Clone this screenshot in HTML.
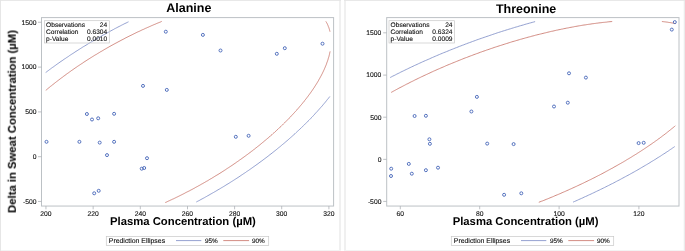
<!DOCTYPE html>
<html><head><meta charset="utf-8"><title>chart</title>
<style>
html,body{margin:0;padding:0;background:#fff;}
body{width:685px;height:251px;overflow:hidden;font-family:"Liberation Sans",sans-serif;}
svg{display:block}
text{filter:blur(0.2px);text-rendering:geometricPrecision}
text{font-family:"Liberation Sans",sans-serif;}
.tk{font-size:6.75px;fill:#111;stroke:#111;stroke-width:0.12px}
.in{font-size:6.6px;fill:#111;stroke:#111;stroke-width:0.12px}
.lg{font-size:6.4px;fill:#111;stroke:#111;stroke-width:0.12px}
.ttl{font-size:12.5px;font-weight:bold;fill:#000;}
.ax{font-size:11.3px;font-weight:bold;fill:#000;}
</style></head><body>
<svg width="685" height="251" viewBox="0 0 685 251">
<rect x="0" y="0" width="685" height="251" fill="#fff"/>
<line x1="340" y1="0" x2="340" y2="251" stroke="#f0f0f0" stroke-width="2"/>
<line x1="345" y1="0" x2="345" y2="251" stroke="#f0f0f0" stroke-width="2"/>
<line x1="0" y1="250.5" x2="341" y2="250.5" stroke="#f3f3f3" stroke-width="1"/>
<line x1="344" y1="250.5" x2="685" y2="250.5" stroke="#f3f3f3" stroke-width="1"/>
<line x1="0.5" y1="0" x2="0.5" y2="251" stroke="#e6e6e6" stroke-width="1"/>
<line x1="684.4" y1="0" x2="684.4" y2="251" stroke="#ebebeb" stroke-width="1.3"/>
<line x1="0" y1="0.45" x2="341" y2="0.45" stroke="#e3e3e3" stroke-width="0.9"/>
<line x1="344" y1="0.45" x2="685" y2="0.45" stroke="#e3e3e3" stroke-width="0.9"/>
<rect x="41.5" y="17.6" width="292.1" height="188.45000000000002" fill="#fff" stroke="#bcc1c5" stroke-width="1"/>
<rect x="386.7" y="17.6" width="292.3" height="188.45000000000002" fill="#fff" stroke="#bcc1c5" stroke-width="1"/>
<line x1="38.0" y1="22.25" x2="41.5" y2="22.25" stroke="#adb1b6" stroke-width="0.8"/><text class="tk" x="36.6" y="24.55" text-anchor="end">1500</text>
<line x1="38.0" y1="67.1" x2="41.5" y2="67.1" stroke="#adb1b6" stroke-width="0.8"/><text class="tk" x="36.6" y="69.39999999999999" text-anchor="end">1000</text>
<line x1="38.0" y1="111.9" x2="41.5" y2="111.9" stroke="#adb1b6" stroke-width="0.8"/><text class="tk" x="36.6" y="114.2" text-anchor="end">500</text>
<line x1="38.0" y1="156.7" x2="41.5" y2="156.7" stroke="#adb1b6" stroke-width="0.8"/><text class="tk" x="36.6" y="159.0" text-anchor="end">0</text>
<line x1="38.0" y1="201.45" x2="41.5" y2="201.45" stroke="#adb1b6" stroke-width="0.8"/><text class="tk" x="36.6" y="203.75" text-anchor="end">-500</text>
<line x1="45.95" y1="206.05" x2="45.95" y2="209.3" stroke="#adb1b6" stroke-width="0.8"/><text class="tk" x="45.95" y="215.9" text-anchor="middle">200</text>
<line x1="93.15" y1="206.05" x2="93.15" y2="209.3" stroke="#adb1b6" stroke-width="0.8"/><text class="tk" x="93.15" y="215.9" text-anchor="middle">220</text>
<line x1="140.3" y1="206.05" x2="140.3" y2="209.3" stroke="#adb1b6" stroke-width="0.8"/><text class="tk" x="140.3" y="215.9" text-anchor="middle">240</text>
<line x1="187.5" y1="206.05" x2="187.5" y2="209.3" stroke="#adb1b6" stroke-width="0.8"/><text class="tk" x="187.5" y="215.9" text-anchor="middle">260</text>
<line x1="234.6" y1="206.05" x2="234.6" y2="209.3" stroke="#adb1b6" stroke-width="0.8"/><text class="tk" x="234.6" y="215.9" text-anchor="middle">280</text>
<line x1="281.7" y1="206.05" x2="281.7" y2="209.3" stroke="#adb1b6" stroke-width="0.8"/><text class="tk" x="281.7" y="215.9" text-anchor="middle">300</text>
<line x1="328.9" y1="206.05" x2="328.9" y2="209.3" stroke="#adb1b6" stroke-width="0.8"/><text class="tk" x="328.9" y="215.9" text-anchor="middle">320</text>
<line x1="383.2" y1="32.8" x2="386.7" y2="32.8" stroke="#adb1b6" stroke-width="0.8"/><text class="tk" x="381.4" y="35.099999999999994" text-anchor="end">1500</text>
<line x1="383.2" y1="75.1" x2="386.7" y2="75.1" stroke="#adb1b6" stroke-width="0.8"/><text class="tk" x="381.4" y="77.39999999999999" text-anchor="end">1000</text>
<line x1="383.2" y1="117.2" x2="386.7" y2="117.2" stroke="#adb1b6" stroke-width="0.8"/><text class="tk" x="381.4" y="119.5" text-anchor="end">500</text>
<line x1="383.2" y1="159.35" x2="386.7" y2="159.35" stroke="#adb1b6" stroke-width="0.8"/><text class="tk" x="381.4" y="161.65" text-anchor="end">0</text>
<line x1="383.2" y1="201.4" x2="386.7" y2="201.4" stroke="#adb1b6" stroke-width="0.8"/><text class="tk" x="381.4" y="203.70000000000002" text-anchor="end">-500</text>
<line x1="400.3" y1="206.05" x2="400.3" y2="209.3" stroke="#adb1b6" stroke-width="0.8"/><text class="tk" x="400.3" y="215.9" text-anchor="middle">60</text>
<line x1="479.7" y1="206.05" x2="479.7" y2="209.3" stroke="#adb1b6" stroke-width="0.8"/><text class="tk" x="479.7" y="215.9" text-anchor="middle">80</text>
<line x1="559.1" y1="206.05" x2="559.1" y2="209.3" stroke="#adb1b6" stroke-width="0.8"/><text class="tk" x="559.1" y="215.9" text-anchor="middle">100</text>
<line x1="638.9" y1="206.05" x2="638.9" y2="209.3" stroke="#adb1b6" stroke-width="0.8"/><text class="tk" x="638.9" y="215.9" text-anchor="middle">120</text>
<path d="M45.7 72.5 L46.7 71.8 L47.7 71.0 L48.7 70.3 L49.7 69.5 L50.7 68.8 L51.7 68.0 L52.7 67.3 L53.8 66.6 L54.8 65.8 L55.8 65.1 L56.9 64.3 L57.9 63.6 L58.9 62.9 L60.0 62.1 L61.0 61.4 L62.1 60.7 L63.1 60.0 L64.2 59.2 L65.3 58.5 L66.3 57.8 L67.4 57.1 L68.5 56.4 L69.5 55.6 L70.6 54.9 L71.7 54.2 L72.8 53.5 L73.9 52.8 L74.9 52.1 L76.0 51.4 L77.1 50.7 L78.2 50.0 L79.3 49.3 L80.4 48.6 L81.5 47.9 L82.6 47.2 L83.7 46.5 L84.8 45.9 L86.0 45.2 L87.1 44.5 L88.2 43.8 L89.3 43.1 L90.4 42.5 L91.6 41.8 L92.7 41.1 L93.8 40.5 L94.9 39.8 L96.1 39.1 L97.2 38.5 L98.3 37.8 L99.5 37.2 L100.6 36.5 L101.8 35.9 L102.9 35.2 L104.1 34.6 L105.2 34.0 L106.4 33.3 L107.5 32.7 L108.7 32.1 L109.8 31.4 L111.0 30.8 L112.1 30.2 L113.3 29.6 L114.4 28.9 L115.6 28.3 L116.8 27.7 L117.9 27.1 L119.1 26.5 L120.3 25.9 L121.4 25.3 L122.6 24.7 L123.8 24.1 L124.9 23.5 L126.1 23.0 L127.3 22.4 L128.5 21.8" fill="none" stroke="#7889c4" stroke-width="0.8" stroke-linejoin="round"/>
<path d="M329.8 96.5 L329.2 97.3 L328.6 98.1 L328.0 98.8 L327.3 99.6 L326.7 100.4 L326.1 101.2 L325.4 102.0 L324.8 102.8 L324.1 103.6 L323.4 104.4 L322.8 105.2 L322.1 106.0 L321.4 106.8 L320.7 107.5 L320.0 108.3 L319.3 109.1 L318.6 109.9 L317.9 110.7 L317.2 111.5 L316.4 112.3 L315.7 113.1 L315.0 113.9 L314.2 114.7 L313.5 115.5 L312.8 116.3 L312.0 117.1 L311.2 117.9 L310.5 118.7 L309.7 119.5 L308.9 120.3 L308.1 121.0 L307.4 121.8 L306.6 122.6 L305.8 123.4 L305.0 124.2 L304.2 125.0 L303.3 125.8 L302.5 126.6 L301.7 127.4 L300.9 128.2 L300.0 129.0 L299.2 129.8 L298.4 130.5 L297.5 131.3 L296.7 132.1 L295.8 132.9 L295.0 133.7 L294.1 134.5 L293.2 135.3 L292.3 136.1 L291.5 136.8 L290.6 137.6 L289.7 138.4 L288.8 139.2 L287.9 140.0 L287.0 140.8 L286.1 141.5 L285.2 142.3 L284.3 143.1 L283.3 143.9 L282.4 144.6 L281.5 145.4 L280.6 146.2 L279.6 147.0 L278.7 147.7 L277.7 148.5 L276.8 149.3 L275.8 150.1 L274.9 150.8 L273.9 151.6 L272.9 152.4 L272.0 153.1 L271.0 153.9 L270.0 154.6 L269.0 155.4 L268.1 156.2 L267.1 156.9 L266.1 157.7 L265.1 158.4 L264.1 159.2 L263.1 159.9 L262.1 160.7 L261.1 161.4 L260.0 162.2 L259.0 162.9 L258.0 163.7 L257.0 164.4 L255.9 165.2 L254.9 165.9 L253.9 166.6 L252.8 167.4 L251.8 168.1 L250.8 168.8 L249.7 169.6 L248.7 170.3 L247.6 171.0 L246.5 171.7 L245.5 172.5 L244.4 173.2 L243.3 173.9 L242.3 174.6 L241.2 175.3 L240.1 176.1 L239.0 176.8 L238.0 177.5 L236.9 178.2 L235.8 178.9 L234.7 179.6 L233.6 180.3 L232.5 181.0 L231.4 181.7 L230.3 182.4 L229.2 183.1 L228.1 183.8 L227.0 184.4 L225.9 185.1 L224.8 185.8 L223.7 186.5 L222.5 187.2 L221.4 187.8 L220.3 188.5 L219.2 189.2 L218.0 189.8 L216.9 190.5 L215.8 191.2 L214.7 191.8 L213.5 192.5 L212.4 193.1 L211.2 193.8 L210.1 194.4 L209.0 195.1 L207.8 195.7 L206.7 196.4 L205.5 197.0 L204.4 197.7 L203.2 198.3 L202.1 198.9 L200.9 199.5 L199.8 200.2 L198.6 200.8 L197.4 201.4 L196.3 202.0" fill="none" stroke="#7889c4" stroke-width="0.8" stroke-linejoin="round"/>
<path d="M45.8 90.3 L46.6 89.7 L47.4 89.0 L48.2 88.3 L49.0 87.7 L49.8 87.0 L50.6 86.3 L51.5 85.7 L52.3 85.0 L53.1 84.4 L54.0 83.7 L54.8 83.0 L55.6 82.4 L56.5 81.7 L57.3 81.1 L58.2 80.4 L59.0 79.8 L59.9 79.1 L60.7 78.5 L61.6 77.8 L62.5 77.2 L63.3 76.5 L64.2 75.9 L65.1 75.2 L66.0 74.6 L66.8 73.9 L67.7 73.3 L68.6 72.7 L69.5 72.0 L70.4 71.4 L71.3 70.7 L72.2 70.1 L73.1 69.5 L74.0 68.8 L74.9 68.2 L75.8 67.6 L76.7 67.0 L77.6 66.3 L78.6 65.7 L79.5 65.1 L80.4 64.5 L81.3 63.9 L82.3 63.3 L83.2 62.6 L84.1 62.0 L85.1 61.4 L86.0 60.8 L86.9 60.2 L87.9 59.6 L88.8 59.0 L89.8 58.4 L90.7 57.8 L91.7 57.2 L92.6 56.6 L93.6 56.0 L94.5 55.4 L95.5 54.8 L96.5 54.3 L97.4 53.7 L98.4 53.1 L99.4 52.5 L100.3 51.9 L101.3 51.4 L102.3 50.8 L103.3 50.2 L104.2 49.6 L105.2 49.1 L106.2 48.5 L107.2 47.9 L108.2 47.4 L109.1 46.8 L110.1 46.3 L111.1 45.7 L112.1 45.2 L113.1 44.6 L114.1 44.1 L115.1 43.5 L116.1 43.0 L117.1 42.5 L118.1 41.9 L119.1 41.4 L120.1 40.9 L121.1 40.3 L122.1 39.8 L123.1 39.3 L124.1 38.8 L125.1 38.2 L126.1 37.7 L127.1 37.2 L128.1 36.7 L129.1 36.2 L130.1 35.7 L131.2 35.2 L132.2 34.7 L133.2 34.2 L134.2 33.7 L135.2 33.2 L136.2 32.7 L137.2 32.2 L138.3 31.7 L139.3 31.3 L140.3 30.8 L141.3 30.3 L142.3 29.8 L143.4 29.4 L144.4 28.9 L145.4 28.4 L146.4 28.0 L147.4 27.5 L148.5 27.1 L149.5 26.6 L150.5 26.2 L151.5 25.7 L152.5 25.3 L153.6 24.8 L154.6 24.4 L155.6 24.0 L156.6 23.5 L157.7 23.1 L158.7 22.7 L159.7 22.3 L160.7 21.9 L161.7 21.4" fill="none" stroke="#c66f63" stroke-width="0.8" stroke-linejoin="round"/>
<path d="M325.9 21.4 L326.1 21.9 L326.4 22.3 L326.6 22.7 L326.8 23.1 L327.1 23.5 L327.3 24.0 L327.5 24.4 L327.7 24.8 L327.9 25.3 L328.1 25.7 L328.2 26.2 L328.4 26.6 L328.6 27.1 L328.8 27.5 L328.9 28.0 L329.1 28.4 L329.2 28.9 L329.4 29.4 L329.5 29.8 L329.6 30.3 L329.8 30.8 L329.9 31.3 L330.0 31.7" fill="none" stroke="#c66f63" stroke-width="0.8" stroke-linejoin="round"/>
<path d="M330.1 51.4 L330.0 51.9 L329.8 52.5 L329.7 53.1 L329.6 53.7 L329.5 54.3 L329.3 54.8 L329.2 55.4 L329.0 56.0 L328.9 56.6 L328.7 57.2 L328.5 57.8 L328.3 58.4 L328.2 59.0 L328.0 59.6 L327.8 60.2 L327.6 60.8 L327.4 61.4 L327.2 62.0 L326.9 62.6 L326.7 63.2 L326.5 63.9 L326.3 64.5 L326.0 65.1 L325.8 65.7 L325.5 66.3 L325.3 67.0 L325.0 67.6 L324.7 68.2 L324.5 68.8 L324.2 69.5 L323.9 70.1 L323.6 70.7 L323.3 71.4 L323.0 72.0 L322.7 72.6 L322.4 73.3 L322.1 73.9 L321.7 74.6 L321.4 75.2 L321.1 75.9 L320.7 76.5 L320.4 77.1 L320.0 77.8 L319.7 78.4 L319.3 79.1 L318.9 79.7 L318.6 80.4 L318.2 81.1 L317.8 81.7 L317.4 82.4 L317.0 83.0 L316.6 83.7 L316.2 84.3 L315.8 85.0 L315.3 85.7 L314.9 86.3 L314.5 87.0 L314.1 87.7 L313.6 88.3 L313.2 89.0 L312.7 89.7 L312.3 90.3 L311.8 91.0 L311.3 91.7 L310.9 92.3 L310.4 93.0 L309.9 93.7 L309.4 94.4 L308.9 95.0 L308.4 95.7 L307.9 96.4 L307.4 97.1 L306.9 97.7 L306.4 98.4 L305.8 99.1 L305.3 99.8 L304.8 100.5 L304.2 101.1 L303.7 101.8 L303.1 102.5 L302.6 103.2 L302.0 103.9 L301.5 104.5 L300.9 105.2 L300.3 105.9 L299.7 106.6 L299.1 107.3 L298.6 108.0 L298.0 108.6 L297.4 109.3 L296.8 110.0 L296.1 110.7 L295.5 111.4 L294.9 112.1 L294.3 112.7 L293.7 113.4 L293.0 114.1 L292.4 114.8 L291.7 115.5 L291.1 116.2 L290.5 116.9 L289.8 117.5 L289.1 118.2 L288.5 118.9 L287.8 119.6 L287.1 120.3 L286.4 121.0 L285.8 121.6 L285.1 122.3 L284.4 123.0 L283.7 123.7 L283.0 124.4 L282.3 125.1 L281.6 125.7 L280.9 126.4 L280.1 127.1 L279.4 127.8 L278.7 128.5 L278.0 129.2 L277.2 129.8 L276.5 130.5 L275.8 131.2 L275.0 131.9 L274.3 132.6 L273.5 133.2 L272.7 133.9 L272.0 134.6 L271.2 135.3 L270.4 135.9 L269.7 136.6 L268.9 137.3 L268.1 138.0 L267.3 138.6 L266.5 139.3 L265.7 140.0 L264.9 140.6 L264.1 141.3 L263.3 142.0 L262.5 142.6 L261.7 143.3 L260.9 144.0 L260.1 144.6 L259.3 145.3 L258.4 146.0 L257.6 146.6 L256.8 147.3 L255.9 147.9 L255.1 148.6 L254.3 149.3 L253.4 149.9 L252.6 150.6 L251.7 151.2 L250.9 151.9 L250.0 152.5 L249.1 153.2 L248.3 153.8 L247.4 154.5 L246.5 155.1 L245.6 155.8 L244.8 156.4 L243.9 157.0 L243.0 157.7 L242.1 158.3 L241.2 159.0 L240.3 159.6 L239.4 160.2 L238.5 160.9 L237.6 161.5 L236.7 162.1 L235.8 162.8 L234.9 163.4 L234.0 164.0 L233.1 164.6 L232.2 165.3 L231.2 165.9 L230.3 166.5 L229.4 167.1 L228.5 167.7 L227.5 168.3 L226.6 168.9 L225.7 169.6 L224.7 170.2 L223.8 170.8 L222.8 171.4 L221.9 172.0 L221.0 172.6 L220.0 173.2 L219.1 173.8 L218.1 174.4 L217.1 175.0 L216.2 175.5 L215.2 176.1 L214.3 176.7 L213.3 177.3 L212.3 177.9 L211.4 178.5 L210.4 179.0 L209.4 179.6 L208.5 180.2 L207.5 180.8 L206.5 181.3 L205.5 181.9 L204.5 182.5 L203.6 183.0 L202.6 183.6 L201.6 184.1 L200.6 184.7 L199.6 185.3 L198.6 185.8 L197.6 186.4 L196.6 186.9 L195.6 187.4 L194.7 188.0 L193.7 188.5 L192.7 189.1 L191.7 189.6 L190.7 190.1 L189.7 190.7 L188.7 191.2 L187.6 191.7 L186.6 192.2 L185.6 192.7 L184.6 193.3 L183.6 193.8 L182.6 194.3 L181.6 194.8 L180.6 195.3 L179.6 195.8 L178.6 196.3 L177.6 196.8 L176.5 197.3 L175.5 197.8 L174.5 198.3 L173.5 198.8 L172.5 199.2 L171.5 199.7 L170.4 200.2 L169.4 200.7 L168.4 201.1 L167.4 201.6 L166.4 202.1 L165.3 202.5" fill="none" stroke="#c66f63" stroke-width="0.8" stroke-linejoin="round"/>
<path d="M390.2 77.5 L391.5 76.8 L392.8 76.1 L394.2 75.5 L395.5 74.8 L396.8 74.1 L398.1 73.5 L399.5 72.8 L400.8 72.1 L402.1 71.5 L403.5 70.8 L404.8 70.2 L406.2 69.5 L407.5 68.9 L408.9 68.2 L410.2 67.6 L411.6 66.9 L413.0 66.3 L414.3 65.6 L415.7 65.0 L417.1 64.4 L418.5 63.7 L419.8 63.1 L421.2 62.5 L422.6 61.8 L424.0 61.2 L425.4 60.6 L426.8 60.0 L428.2 59.4 L429.6 58.8 L431.0 58.1 L432.4 57.5 L433.8 56.9 L435.2 56.3 L436.6 55.7 L438.0 55.1 L439.4 54.5 L440.8 53.9 L442.3 53.3 L443.7 52.7 L445.1 52.2 L446.5 51.6 L448.0 51.0 L449.4 50.4 L450.8 49.8 L452.2 49.3 L453.7 48.7 L455.1 48.1 L456.5 47.6 L458.0 47.0 L459.4 46.4 L460.9 45.9 L462.3 45.3 L463.8 44.8 L465.2 44.2 L466.6 43.7 L468.1 43.1 L469.5 42.6 L471.0 42.1 L472.4 41.5 L473.9 41.0 L475.3 40.5 L476.8 39.9 L478.3 39.4 L479.7 38.9 L481.2 38.4 L482.6 37.9 L484.1 37.4 L485.5 36.9 L487.0 36.4 L488.5 35.9 L489.9 35.4 L491.4 34.9 L492.8 34.4 L494.3 33.9 L495.8 33.4 L497.2 32.9 L498.7 32.4 L500.1 32.0 L501.6 31.5 L503.1 31.0 L504.5 30.6 L506.0 30.1 L507.4 29.7 L508.9 29.2 L510.4 28.8 L511.8 28.3 L513.3 27.9 L514.7 27.4 L516.2 27.0 L517.7 26.6 L519.1 26.1 L520.6 25.7 L522.0 25.3 L523.5 24.9 L524.9 24.4 L526.4 24.0 L527.9 23.6 L529.3 23.2 L530.8 22.8 L532.2 22.4 L533.7 22.0 L535.1 21.6" fill="none" stroke="#7889c4" stroke-width="0.8" stroke-linejoin="round"/>
<path d="M674.7 146.6 L673.7 147.3 L672.6 148.0 L671.5 148.8 L670.4 149.5 L669.4 150.2 L668.3 151.0 L667.2 151.7 L666.1 152.4 L665.0 153.2 L663.8 153.9 L662.7 154.6 L661.6 155.3 L660.5 156.1 L659.3 156.8 L658.2 157.5 L657.0 158.2 L655.9 159.0 L654.7 159.7 L653.6 160.4 L652.4 161.1 L651.2 161.8 L650.0 162.6 L648.9 163.3 L647.7 164.0 L646.5 164.7 L645.3 165.4 L644.1 166.1 L642.9 166.8 L641.7 167.5 L640.4 168.3 L639.2 169.0 L638.0 169.7 L636.8 170.4 L635.5 171.1 L634.3 171.8 L633.0 172.5 L631.8 173.2 L630.5 173.9 L629.3 174.6 L628.0 175.3 L626.8 175.9 L625.5 176.6 L624.2 177.3 L622.9 178.0 L621.6 178.7 L620.4 179.4 L619.1 180.1 L617.8 180.7 L616.5 181.4 L615.2 182.1 L613.9 182.8 L612.6 183.5 L611.2 184.1 L609.9 184.8 L608.6 185.5 L607.3 186.1 L605.9 186.8 L604.6 187.5 L603.3 188.1 L601.9 188.8 L600.6 189.4 L599.3 190.1 L597.9 190.7 L596.5 191.4 L595.2 192.0 L593.8 192.7 L592.5 193.3 L591.1 194.0 L589.7 194.6 L588.4 195.2 L587.0 195.9 L585.6 196.5 L584.2 197.1 L582.9 197.8 L581.5 198.4 L580.1 199.0 L578.7 199.6 L577.3 200.3 L575.9 200.9 L574.5 201.5 L573.1 202.1" fill="none" stroke="#7889c4" stroke-width="0.8" stroke-linejoin="round"/>
<path d="M391.2 92.4 L392.3 91.8 L393.4 91.2 L394.5 90.6 L395.6 90.0 L396.7 89.4 L397.8 88.8 L398.9 88.2 L400.0 87.6 L401.1 87.1 L402.2 86.5 L403.3 85.9 L404.5 85.3 L405.6 84.7 L406.7 84.1 L407.9 83.6 L409.0 83.0 L410.1 82.4 L411.3 81.8 L412.4 81.3 L413.6 80.7 L414.7 80.1 L415.9 79.5 L417.0 79.0 L418.2 78.4 L419.4 77.8 L420.5 77.3 L421.7 76.7 L422.9 76.2 L424.0 75.6 L425.2 75.1 L426.4 74.5 L427.6 74.0 L428.8 73.4 L430.0 72.9 L431.1 72.3 L432.3 71.8 L433.5 71.2 L434.7 70.7 L435.9 70.2 L437.1 69.6 L438.3 69.1 L439.5 68.6 L440.8 68.0 L442.0 67.5 L443.2 67.0 L444.4 66.5 L445.6 65.9 L446.8 65.4 L448.0 64.9 L449.3 64.4 L450.5 63.9 L451.7 63.4 L452.9 62.9 L454.2 62.4 L455.4 61.9 L456.6 61.4 L457.9 60.9 L459.1 60.4 L460.3 59.9 L461.6 59.4 L462.8 58.9 L464.0 58.4 L465.3 57.9 L466.5 57.5 L467.8 57.0 L469.0 56.5 L470.3 56.0 L471.5 55.6 L472.8 55.1 L474.0 54.6 L475.3 54.2 L476.5 53.7 L477.8 53.3 L479.0 52.8 L480.3 52.3 L481.5 51.9 L482.8 51.4 L484.0 51.0 L485.3 50.6 L486.5 50.1 L487.8 49.7 L489.1 49.3 L490.3 48.8 L491.6 48.4 L492.8 48.0 L494.1 47.5 L495.4 47.1 L496.6 46.7 L497.9 46.3 L499.1 45.9 L500.4 45.5 L501.7 45.1 L502.9 44.7 L504.2 44.3 L505.4 43.9 L506.7 43.5 L508.0 43.1 L509.2 42.7 L510.5 42.3 L511.7 41.9 L513.0 41.5 L514.3 41.2 L515.5 40.8 L516.8 40.4 L518.0 40.1 L519.3 39.7 L520.5 39.3 L521.8 39.0 L523.1 38.6 L524.3 38.3 L525.6 37.9 L526.8 37.6 L528.1 37.2 L529.3 36.9 L530.6 36.6 L531.8 36.2 L533.1 35.9 L534.3 35.6 L535.6 35.2 L536.8 34.9 L538.0 34.6 L539.3 34.3 L540.5 34.0 L541.8 33.7 L543.0 33.4 L544.2 33.1 L545.5 32.8 L546.7 32.5 L547.9 32.2 L549.2 31.9 L550.4 31.6 L551.6 31.3 L552.9 31.1 L554.1 30.8 L555.3 30.5 L556.5 30.2 L557.7 30.0 L559.0 29.7 L560.2 29.5 L561.4 29.2 L562.6 29.0 L563.8 28.7 L565.0 28.5 L566.2 28.2 L567.4 28.0 L568.6 27.8 L569.8 27.5 L571.0 27.3 L572.2 27.1 L573.4 26.9 L574.6 26.6 L575.8 26.4 L577.0 26.2 L578.1 26.0 L579.3 25.8 L580.5 25.6 L581.7 25.4 L582.8 25.2 L584.0 25.0 L585.2 24.9 L586.3 24.7 L587.5 24.5 L588.7 24.3 L589.8 24.2 L591.0 24.0 L592.1 23.8 L593.2 23.7 L594.4 23.5 L595.5 23.4 L596.7 23.2 L597.8 23.1 L598.9 22.9 L600.1 22.8 L601.2 22.7 L602.3 22.5 L603.4 22.4 L604.5 22.3 L605.6 22.2 L606.7 22.1 L607.8 21.9 L608.9 21.8 L610.0 21.7 L611.1 21.6 L612.2 21.5" fill="none" stroke="#c66f63" stroke-width="0.8" stroke-linejoin="round"/>
<path d="M661.9 21.5 L662.8 21.6 L663.6 21.7 L664.5 21.8 L665.3 21.9 L666.1 22.0 L666.9 22.1 L667.7 22.2 L668.6 22.4 L669.4 22.5 L670.2 22.6 L671.0 22.7 L671.7 22.9 L672.5 23.0 L673.3 23.2 L674.1 23.3 L674.8 23.5 L675.6 23.6" fill="none" stroke="#c66f63" stroke-width="0.8" stroke-linejoin="round"/>
<path d="M675.3 125.8 L674.5 126.5 L673.8 127.1 L673.0 127.7 L672.2 128.4 L671.4 129.0 L670.6 129.7 L669.8 130.3 L669.0 130.9 L668.2 131.6 L667.4 132.2 L666.6 132.9 L665.8 133.5 L665.0 134.1 L664.1 134.8 L663.3 135.4 L662.4 136.0 L661.6 136.7 L660.7 137.3 L659.9 138.0 L659.0 138.6 L658.1 139.2 L657.3 139.9 L656.4 140.5 L655.5 141.1 L654.6 141.8 L653.7 142.4 L652.8 143.0 L651.9 143.7 L651.0 144.3 L650.1 144.9 L649.1 145.6 L648.2 146.2 L647.3 146.8 L646.3 147.5 L645.4 148.1 L644.5 148.7 L643.5 149.4 L642.5 150.0 L641.6 150.6 L640.6 151.3 L639.6 151.9 L638.7 152.5 L637.7 153.1 L636.7 153.8 L635.7 154.4 L634.7 155.0 L633.7 155.6 L632.7 156.2 L631.7 156.9 L630.7 157.5 L629.7 158.1 L628.7 158.7 L627.6 159.3 L626.6 159.9 L625.6 160.6 L624.5 161.2 L623.5 161.8 L622.5 162.4 L621.4 163.0 L620.4 163.6 L619.3 164.2 L618.2 164.8 L617.2 165.4 L616.1 166.0 L615.0 166.6 L613.9 167.2 L612.9 167.9 L611.8 168.4 L610.7 169.0 L609.6 169.6 L608.5 170.2 L607.4 170.8 L606.3 171.4 L605.2 172.0 L604.1 172.6 L603.0 173.2 L601.9 173.8 L600.7 174.4 L599.6 175.0 L598.5 175.5 L597.4 176.1 L596.2 176.7 L595.1 177.3 L593.9 177.9 L592.8 178.4 L591.7 179.0 L590.5 179.6 L589.4 180.1 L588.2 180.7 L587.0 181.3 L585.9 181.8 L584.7 182.4 L583.5 183.0 L582.4 183.5 L581.2 184.1 L580.0 184.6 L578.9 185.2 L577.7 185.7 L576.5 186.3 L575.3 186.8 L574.1 187.4 L572.9 187.9 L571.7 188.5 L570.5 189.0 L569.3 189.5 L568.2 190.1 L566.9 190.6 L565.7 191.2 L564.5 191.7 L563.3 192.2 L562.1 192.7 L560.9 193.3 L559.7 193.8 L558.5 194.3 L557.3 194.8 L556.0 195.3 L554.8 195.8 L553.6 196.4 L552.4 196.9 L551.1 197.4 L549.9 197.9 L548.7 198.4 L547.5 198.9 L546.2 199.4 L545.0 199.9 L543.8 200.4 L542.5 200.9 L541.3 201.3 L540.0 201.8 L538.8 202.3" fill="none" stroke="#c66f63" stroke-width="0.8" stroke-linejoin="round"/>
<circle cx="165.8" cy="31.7" r="1.5" fill="none" stroke="#4464b8" stroke-width="0.9"/>
<circle cx="202.9" cy="34.9" r="1.5" fill="none" stroke="#4464b8" stroke-width="0.9"/>
<circle cx="220.5" cy="50.5" r="1.5" fill="none" stroke="#4464b8" stroke-width="0.9"/>
<circle cx="276.8" cy="53.8" r="1.5" fill="none" stroke="#4464b8" stroke-width="0.9"/>
<circle cx="284.8" cy="48.2" r="1.5" fill="none" stroke="#4464b8" stroke-width="0.9"/>
<circle cx="322.5" cy="43.7" r="1.5" fill="none" stroke="#4464b8" stroke-width="0.9"/>
<circle cx="143" cy="85.9" r="1.5" fill="none" stroke="#4464b8" stroke-width="0.9"/>
<circle cx="166.8" cy="89.9" r="1.5" fill="none" stroke="#4464b8" stroke-width="0.9"/>
<circle cx="86.9" cy="114" r="1.5" fill="none" stroke="#4464b8" stroke-width="0.9"/>
<circle cx="92" cy="119.5" r="1.5" fill="none" stroke="#4464b8" stroke-width="0.9"/>
<circle cx="98.2" cy="118.3" r="1.5" fill="none" stroke="#4464b8" stroke-width="0.9"/>
<circle cx="114.1" cy="113.8" r="1.5" fill="none" stroke="#4464b8" stroke-width="0.9"/>
<circle cx="46.5" cy="141.8" r="1.5" fill="none" stroke="#4464b8" stroke-width="0.9"/>
<circle cx="79.4" cy="141.8" r="1.5" fill="none" stroke="#4464b8" stroke-width="0.9"/>
<circle cx="99.7" cy="142.6" r="1.5" fill="none" stroke="#4464b8" stroke-width="0.9"/>
<circle cx="114.1" cy="141.8" r="1.5" fill="none" stroke="#4464b8" stroke-width="0.9"/>
<circle cx="107" cy="155.1" r="1.5" fill="none" stroke="#4464b8" stroke-width="0.9"/>
<circle cx="147" cy="158.2" r="1.5" fill="none" stroke="#4464b8" stroke-width="0.9"/>
<circle cx="141.7" cy="168.7" r="1.5" fill="none" stroke="#4464b8" stroke-width="0.9"/>
<circle cx="144.2" cy="168" r="1.5" fill="none" stroke="#4464b8" stroke-width="0.9"/>
<circle cx="94.2" cy="193.3" r="1.5" fill="none" stroke="#4464b8" stroke-width="0.9"/>
<circle cx="98.7" cy="190.8" r="1.5" fill="none" stroke="#4464b8" stroke-width="0.9"/>
<circle cx="235.8" cy="136.8" r="1.5" fill="none" stroke="#4464b8" stroke-width="0.9"/>
<circle cx="248.6" cy="135.8" r="1.5" fill="none" stroke="#4464b8" stroke-width="0.9"/>
<circle cx="674.8" cy="22.1" r="1.5" fill="none" stroke="#4464b8" stroke-width="0.9"/>
<circle cx="671.8" cy="29.6" r="1.5" fill="none" stroke="#4464b8" stroke-width="0.9"/>
<circle cx="569" cy="73.3" r="1.5" fill="none" stroke="#4464b8" stroke-width="0.9"/>
<circle cx="585.9" cy="77.6" r="1.5" fill="none" stroke="#4464b8" stroke-width="0.9"/>
<circle cx="567.8" cy="102.7" r="1.5" fill="none" stroke="#4464b8" stroke-width="0.9"/>
<circle cx="554" cy="106.5" r="1.5" fill="none" stroke="#4464b8" stroke-width="0.9"/>
<circle cx="414.6" cy="116" r="1.5" fill="none" stroke="#4464b8" stroke-width="0.9"/>
<circle cx="425.9" cy="115.8" r="1.5" fill="none" stroke="#4464b8" stroke-width="0.9"/>
<circle cx="471.4" cy="111.5" r="1.5" fill="none" stroke="#4464b8" stroke-width="0.9"/>
<circle cx="476.9" cy="96.9" r="1.5" fill="none" stroke="#4464b8" stroke-width="0.9"/>
<circle cx="429.4" cy="139.3" r="1.5" fill="none" stroke="#4464b8" stroke-width="0.9"/>
<circle cx="429.9" cy="143.8" r="1.5" fill="none" stroke="#4464b8" stroke-width="0.9"/>
<circle cx="487.2" cy="143.6" r="1.5" fill="none" stroke="#4464b8" stroke-width="0.9"/>
<circle cx="513.6" cy="144.1" r="1.5" fill="none" stroke="#4464b8" stroke-width="0.9"/>
<circle cx="391.2" cy="168.7" r="1.5" fill="none" stroke="#4464b8" stroke-width="0.9"/>
<circle cx="391" cy="176" r="1.5" fill="none" stroke="#4464b8" stroke-width="0.9"/>
<circle cx="408.8" cy="163.9" r="1.5" fill="none" stroke="#4464b8" stroke-width="0.9"/>
<circle cx="411.8" cy="173.7" r="1.5" fill="none" stroke="#4464b8" stroke-width="0.9"/>
<circle cx="425.9" cy="170.2" r="1.5" fill="none" stroke="#4464b8" stroke-width="0.9"/>
<circle cx="438" cy="167.7" r="1.5" fill="none" stroke="#4464b8" stroke-width="0.9"/>
<circle cx="504.1" cy="194.8" r="1.5" fill="none" stroke="#4464b8" stroke-width="0.9"/>
<circle cx="521.3" cy="193.3" r="1.5" fill="none" stroke="#4464b8" stroke-width="0.9"/>
<circle cx="638.6" cy="143.1" r="1.5" fill="none" stroke="#4464b8" stroke-width="0.9"/>
<circle cx="643.7" cy="142.8" r="1.5" fill="none" stroke="#4464b8" stroke-width="0.9"/>
<rect x="44.5" y="20.7" width="64.8" height="22.3" fill="none" stroke="#c8c8c8" stroke-width="0.7"/>
<text class="in" x="46.1" y="26.85">Observations</text><text class="in" x="107.2" y="26.85" text-anchor="end">24</text>
<text class="in" x="46.1" y="34.050000000000004">Correlation</text><text class="in" x="107.2" y="34.050000000000004" text-anchor="end">0.6304</text>
<text class="in" x="46.1" y="41.25">p-Value</text><text class="in" x="107.2" y="41.25" text-anchor="end">0.0010</text>
<rect x="389.0" y="20.7" width="65.6" height="22.3" fill="none" stroke="#c8c8c8" stroke-width="0.7"/>
<text class="in" x="390.6" y="26.85">Observations</text><text class="in" x="452.5" y="26.85" text-anchor="end">24</text>
<text class="in" x="390.6" y="34.050000000000004">Correlation</text><text class="in" x="452.5" y="34.050000000000004" text-anchor="end">0.6324</text>
<text class="in" x="390.6" y="41.25">p-Value</text><text class="in" x="452.5" y="41.25" text-anchor="end">0.0009</text>
<text class="ttl" x="188.8" y="12.2" text-anchor="middle">Alanine</text>
<text class="ttl" x="526.1" y="13.2" text-anchor="middle">Threonine</text>
<text class="ax" x="182.9" y="225.1" text-anchor="middle">Plasma Concentration (µM)</text>
<text class="ax" x="525.6" y="225.1" text-anchor="middle">Plasma Concentration (µM)</text>
<text class="ax" transform="translate(15.8,121.5) rotate(-90)" text-anchor="middle">Delta in Sweat Concentration (µM)</text>
<rect x="106.3" y="236.4" width="162.4" height="9" fill="#fff" stroke="#c8c8c8" stroke-width="0.7"/>
<text class="lg" style="font-size:6.9px" x="108.8" y="243.1">Prediction Ellipses</text>
<line x1="176.0" y1="240.6" x2="201.3" y2="240.6" stroke="#7889c4" stroke-width="0.8"/><text class="lg" x="204.89999999999998" y="243.1">95%</text>
<line x1="223.3" y1="240.6" x2="249.10000000000002" y2="240.6" stroke="#c66f63" stroke-width="0.8"/><text class="lg" x="251.89999999999998" y="243.1">90%</text>
<rect x="451.3" y="236.4" width="162.4" height="9" fill="#fff" stroke="#c8c8c8" stroke-width="0.7"/>
<text class="lg" style="font-size:6.9px" x="453.8" y="243.1">Prediction Ellipses</text>
<line x1="521.0" y1="240.6" x2="546.3" y2="240.6" stroke="#7889c4" stroke-width="0.8"/><text class="lg" x="549.9" y="243.1">95%</text>
<line x1="568.3" y1="240.6" x2="594.1" y2="240.6" stroke="#c66f63" stroke-width="0.8"/><text class="lg" x="596.9" y="243.1">90%</text>
</svg></body></html>
